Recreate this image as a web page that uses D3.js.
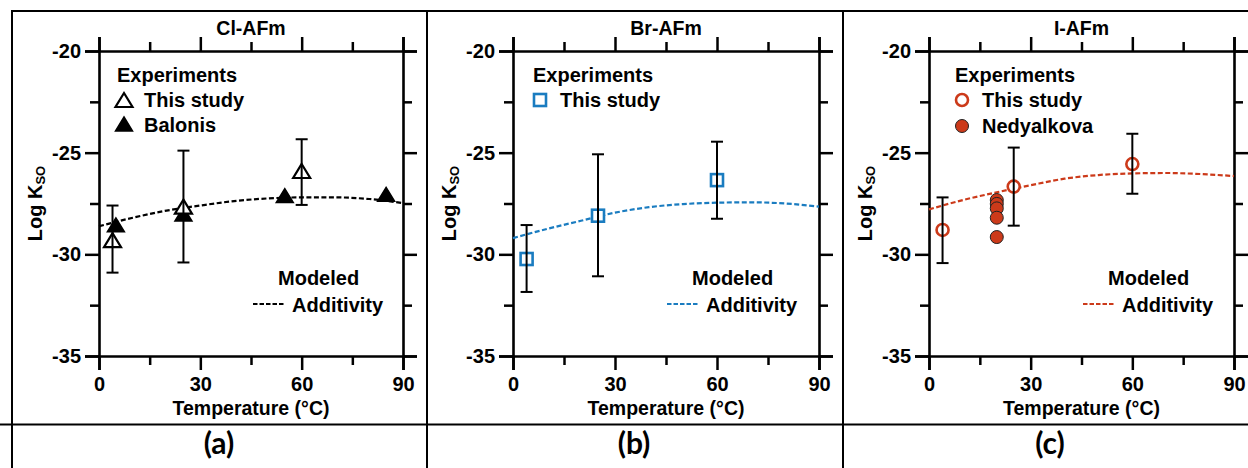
<!DOCTYPE html>
<html>
<head>
<meta charset="utf-8">
<script src="https://cdn.jsdelivr.net/npm/d3@7"></script>
<style>
  html, body { margin: 0; padding: 0; background: #fff; }
  svg { display: block; }
  text { font-family: "Liberation Sans", Arial, sans-serif; font-weight: bold; fill: #000; }
</style>
</head>
<body>
<svg id="chart" width="1248" height="468"></svg>
<script>
// ---- data ----
const panelTitles = ["Cl-AFm", "Br-AFm", "I-AFm"];
const panelTags = ["(a)", "(b)", "(c)"];
const xTicks = [0, 30, 60, 90];
const xMinorTicks = [15, 45, 75];
const yTicks = [-20, -25, -30, -35];
const yMinorTicks = [-22.5, -27.5, -32.5];

// modeled additivity curves, sampled every 10 °C
const modelT = [0, 10, 20, 30, 40, 50, 60, 70, 80, 90];
const clModel = [-28.62, -28.2, -27.85, -27.6, -27.38, -27.25, -27.2, -27.2, -27.28, -27.48];
const brModel = [-29.2, -28.75, -28.35, -27.95, -27.68, -27.53, -27.46, -27.44, -27.5, -27.65];
const iModel = [-27.79, -27.33, -26.95, -26.6, -26.28, -26.1, -26.02, -26.0, -26.05, -26.15];

// Cl-AFm, this study
const clStudyT = [4, 25, 60];
const clStudyK = [-29.35, -27.7, -25.95];
const clStudyLo = [-30.9, -30.4, -27.57];
const clStudyHi = [-27.6, -24.9, -24.34];
// Cl-AFm, Balonis
const balonisT = [5, 25, 55, 85];
const balonisK = [-28.6, -28.07, -27.16, -27.1];

// Br-AFm, this study
const brStudyT = [4, 25, 60];
const brStudyK = [-30.23, -28.1, -26.35];
const brStudyLo = [-31.85, -31.08, -28.25];
const brStudyHi = [-28.56, -25.08, -24.46];

// I-AFm, this study
const iStudyT = [4, 25, 60];
const iStudyK = [-28.8, -26.67, -25.56];
const iStudyLo = [-30.43, -28.59, -27.02];
const iStudyHi = [-27.2, -24.75, -24.07];
// I-AFm, Nedyalkova
const nedT = [20, 20, 20, 20, 20];
const nedK = [-27.33, -27.52, -27.74, -28.2, -29.15];

// ---- layout ----
const blue = "#1a7cc0";
const red = "#cc3a1a";
const plotLeft = [99, 513, 929];
const plotRight = [403, 819, 1234];
const plotTop = 51, plotBottom = 356;
const cellLeft = [12, 427, 843];

const svg = d3.select("#chart");

// table grid around the three panels
const grid = svg.append("g").attr("stroke", "#000").attr("stroke-width", 2);
grid.append("line").attr("x1", 11).attr("x2", 1248).attr("y1", 11).attr("y2", 11);
grid.append("line").attr("x1", 0).attr("x2", 1248).attr("y1", 424.5).attr("y2", 424.5);
cellLeft.forEach(x => grid.append("line").attr("x1", x).attr("x2", x).attr("y1", 10).attr("y2", 468));

const triPath = "M0,-8L8.5,6L-8.5,6Z";

function errorBars(g, x, y, T, lo, hi) {
  const eb = g.append("g").attr("stroke", "#000").attr("stroke-width", 2).attr("fill", "none");
  T.forEach((t, i) => {
    const cx = x(t);
    eb.append("line").attr("x1", cx).attr("x2", cx).attr("y1", y(hi[i])).attr("y2", y(lo[i]));
    eb.append("line").attr("x1", cx - 6).attr("x2", cx + 6).attr("y1", y(hi[i])).attr("y2", y(hi[i]));
    eb.append("line").attr("x1", cx - 6).attr("x2", cx + 6).attr("y1", y(lo[i])).attr("y2", y(lo[i]));
  });
}

function drawPanel(p) {
  const x = d3.scaleLinear().domain([0, 90]).range([plotLeft[p], plotRight[p]]);
  const y = d3.scaleLinear().domain([-35, -20]).range([plotBottom, plotTop]);
  const g = svg.append("g");
  const cx = (plotLeft[p] + plotRight[p]) / 2;

  // axes on all four sides, outward ticks
  const axes = [
    [d3.axisBottom(x), `translate(0,${plotBottom})`, xTicks, xMinorTicks, true],
    [d3.axisTop(x), `translate(0,${plotTop})`, xTicks, xMinorTicks, false],
    [d3.axisLeft(y), `translate(${plotLeft[p]},0)`, yTicks, yMinorTicks, true],
    [d3.axisRight(y), `translate(${plotRight[p]},0)`, yTicks, yMinorTicks, false]
  ];
  axes.forEach(([ax, tr, major, minor, labelled]) => {
    const isX = major === xTicks;
    const a = g.append("g").attr("transform", tr)
      .call(ax.tickValues(major).tickSize(14).tickPadding(isX ? 7 : 4)
        .tickFormat(labelled ? (d => String(d)) : () => ""));
    a.selectAll("text").style("font-size", "20px").attr("fill", "#000");
    a.selectAll("line").attr("stroke-width", 2.5);
    a.select(".domain").attr("stroke-width", 2.6);
    const m = g.append("g").attr("transform", tr)
      .call(ax.tickValues(minor).tickSize(9).tickFormat(() => ""));
    m.select(".domain").remove();
    m.selectAll("line").attr("stroke-width", 2.5);
  });

  // title and axis titles
  g.append("text").attr("x", cx).attr("y", 34.5).attr("text-anchor", "middle")
    .style("font-size", "19.5px").text(panelTitles[p]);
  g.append("text").attr("x", cx).attr("y", 415).attr("text-anchor", "middle")
    .style("font-size", "19.5px").text("Temperature (°C)");
  const yl = g.append("text")
    .attr("transform", `translate(${plotLeft[p] - 57},${(plotTop + plotBottom) / 2}) rotate(-90)`)
    .attr("text-anchor", "middle").style("font-size", "20px");
  yl.append("tspan").text("Log K");
  yl.append("tspan").attr("dy", 3).style("font-size", "13px").text("SO");

  g.append("text").attr("x", cellLeft[p] + 207).attr("y", 454)
    .attr("text-anchor", "middle")
    .style("font-family", "Lato, 'Open Sans', sans-serif").style("font-size", "30px")
    .text(panelTags[p]);

  // modeled curve
  const color = p === 0 ? "#000" : p === 1 ? blue : red;
  const model = p === 0 ? clModel : p === 1 ? brModel : iModel;
  const line = d3.line().x((d, i) => x(modelT[i])).y(d => y(d)).curve(d3.curveMonotoneX);
  g.append("path").datum(model).attr("d", line).attr("fill", "none")
    .attr("stroke", color).attr("stroke-width", 2.2).attr("stroke-dasharray", "5,2.5");

  // legend
  const ox = plotLeft[p];
  const expX = p === 2 ? ox + 26 : ox + 18 + (p === 1 ? 2 : 0);
  g.append("text").attr("x", expX).attr("y", 81.5).style("font-size", "20px").text("Experiments");
  const mx = expX + 7;
  const tx = expX + 27;
  g.append("text").attr("x", tx).attr("y", 106.5).style("font-size", "20px").text("This study");
  if (p === 0) {
    g.append("path").attr("d", triPath).attr("transform", `translate(${mx},${101})`)
      .attr("fill", "#fff").attr("stroke", "#000").attr("stroke-width", 2.2);
    g.append("path").attr("d", triPath).attr("transform", `translate(${mx},${125})`)
      .attr("fill", "#000").attr("stroke", "#000").attr("stroke-width", 1.5);
    g.append("text").attr("x", tx).attr("y", 131.5).style("font-size", "20px").text("Balonis");
  } else if (p === 1) {
    g.append("rect").attr("x", mx - 6).attr("y", 94).attr("width", 12).attr("height", 12)
      .attr("fill", "#fff").attr("stroke", blue).attr("stroke-width", 2.6);
  } else {
    g.append("circle").attr("cx", mx).attr("cy", 100).attr("r", 6)
      .attr("fill", "#fff").attr("stroke", red).attr("stroke-width", 2.6);
    g.append("circle").attr("cx", mx).attr("cy", 126).attr("r", 6.5)
      .attr("fill", red).attr("stroke", "#222").attr("stroke-width", 1);
    g.append("text").attr("x", tx).attr("y", 132.5).style("font-size", "20px").text("Nedyalkova");
  }
  g.append("text").attr("x", ox + 179).attr("y", 285).style("font-size", "20px").text("Modeled");
  g.append("line").attr("x1", ox + 154).attr("x2", ox + 185).attr("y1", 304).attr("y2", 304)
    .attr("stroke", color).attr("stroke-width", 2.2).attr("stroke-dasharray", "4.5,2");
  g.append("text").attr("x", ox + 193).attr("y", 311.5).style("font-size", "20px").text("Additivity");

  // data points
  if (p === 0) {
    g.selectAll(".bal").data(balonisT).join("path").attr("d", triPath)
      .attr("transform", (d, i) => `translate(${x(d)},${y(balonisK[i])})`)
      .attr("fill", "#000").attr("stroke", "#000").attr("stroke-width", 1.5);
    g.selectAll(".cls").data(clStudyT).join("path").attr("d", triPath)
      .attr("transform", (d, i) => `translate(${x(d)},${y(clStudyK[i])})`)
      .attr("fill", "#fff").attr("stroke", "#000").attr("stroke-width", 2.2);
    errorBars(g, x, y, clStudyT, clStudyLo, clStudyHi);
  } else if (p === 1) {
    g.selectAll(".brs").data(brStudyT).join("rect")
      .attr("x", d => x(d) - 6).attr("y", (d, i) => y(brStudyK[i]) - 6)
      .attr("width", 12).attr("height", 12)
      .attr("fill", "#fff").attr("stroke", blue).attr("stroke-width", 2.6);
    errorBars(g, x, y, brStudyT, brStudyLo, brStudyHi);
  } else {
    g.selectAll(".ned").data(nedT).join("circle")
      .attr("cx", d => x(d)).attr("cy", (d, i) => y(nedK[i])).attr("r", 6.5)
      .attr("fill", red).attr("stroke", "#222").attr("stroke-width", 1);
    g.selectAll(".is").data(iStudyT).join("circle")
      .attr("cx", d => x(d)).attr("cy", (d, i) => y(iStudyK[i])).attr("r", 6)
      .attr("fill", "#fff").attr("stroke", red).attr("stroke-width", 2.6);
    errorBars(g, x, y, iStudyT, iStudyLo, iStudyHi);
  }
}

[0, 1, 2].forEach(drawPanel);
</script>
</body>
</html>
